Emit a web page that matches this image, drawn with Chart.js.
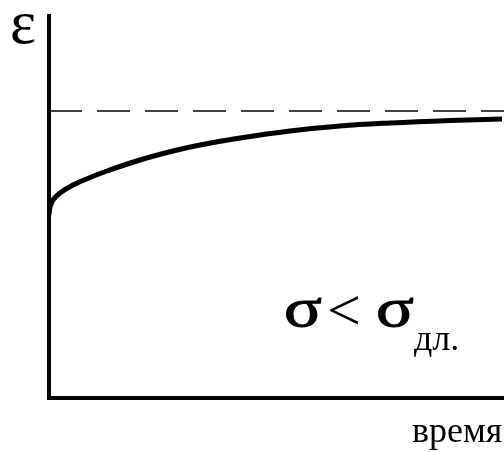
<!DOCTYPE html>
<html>
<head>
<meta charset="utf-8">
<script src="https://cdn.jsdelivr.net/npm/chart.js@4"></script>
<style>
  html, body { margin: 0; padding: 0; background: #fff; }
  #wrap { width: 504px; height: 452px; }
</style>
</head>
<body>
<div id="wrap"><canvas id="chart" width="504" height="452"></canvas></div>
<script>
// creep curve (x = time, y = strain, arbitrary units)
const timeValues = [0, 1, 4, 11, 24, 41, 58, 91, 124, 151, 191, 241, 291, 341, 401, 453];
const strainValues = [183, 191, 198, 205, 213, 220.5, 227, 238, 247, 253, 260, 267, 272, 275, 277.5, 279];
// long-term limit level (dashed)
const limitX = [0, 455];
const limitY = [287, 287];

const xMax = 455;
const yMax = 382;

const curve = timeValues.map((t, i) => ({ x: t, y: strainValues[i] }));
const limit = limitX.map((t, i) => ({ x: t, y: limitY[i] }));

// draw a glyph stretched sideways (symbol-font look)
function wideText(ctx, txt, x, y, sx) {
    ctx.save();
    ctx.translate(x, y);
    ctx.scale(sx, 1);
    ctx.fillText(txt, 0, 0);
    ctx.strokeText(txt, 0, 0);
    ctx.restore();
}

// labels drawn onto the canvas
const labelsPlugin = {
    id: 'labels',
    afterDraw(chart) {
        const ctx = chart.ctx;
        ctx.save();
        ctx.fillStyle = '#000';
        ctx.strokeStyle = '#000';
        ctx.lineWidth = 1;
        ctx.textBaseline = 'alphabetic';
        ctx.textAlign = 'left';

        ctx.font = '62px "Liberation Serif"';
        ctx.fillText('ε', 10, 43);

        ctx.font = '54px "Liberation Serif"';
        wideText(ctx, 'σ', 284, 326, 1.3);
        wideText(ctx, 'σ', 376, 326, 1.3);
        ctx.font = '60px "Liberation Serif"';
        ctx.fillText('<', 327, 330);
        ctx.font = '36px "Liberation Serif"';
        ctx.fillText('дл.', 414, 350);

        ctx.font = '36px "Liberation Serif"';
        ctx.fillText('время', 412, 442);
        ctx.restore();
    }
};

new Chart(document.getElementById('chart'), {
    type: 'scatter',
    data: {
        datasets: [
            {
                data: limit,
                showLine: true,
                borderColor: '#000',
                borderWidth: 1.5,
                borderDash: [33, 15],
                pointRadius: 0
            },
            {
                data: curve,
                showLine: true,
                borderColor: '#000',
                borderWidth: 5,
                tension: 0.4,
                pointRadius: 0
            }
        ]
    },
    options: {
        responsive: false,
        animation: false,
        layout: { padding: { left: 41, top: 16, right: 0, bottom: 46 } },
        plugins: { legend: { display: false }, tooltip: { enabled: false } },
        scales: {
            x: {
                type: 'linear',
                min: 0,
                max: xMax,
                ticks: { display: false },
                grid: { display: false },
                border: { display: true, color: '#000', width: 4 }
            },
            y: {
                type: 'linear',
                min: 0,
                max: yMax,
                ticks: { display: false },
                grid: { display: false },
                border: { display: true, color: '#000', width: 4 }
            }
        }
    },
    plugins: [labelsPlugin]
});
</script>
</body>
</html>
